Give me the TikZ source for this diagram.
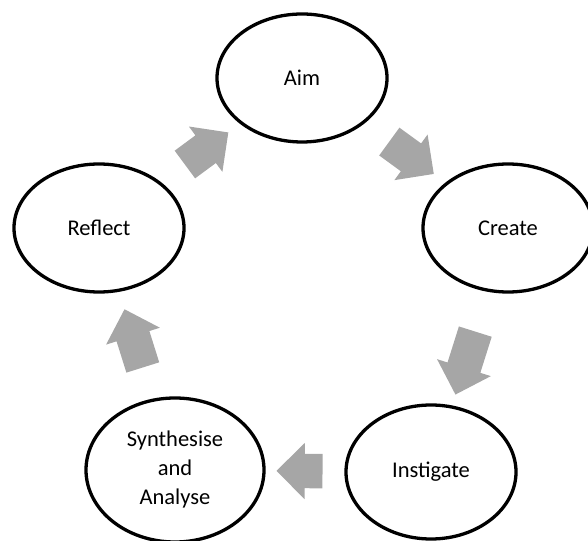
\documentclass[tikz,border=0pt]{standalone}
\usepackage{fontspec}
\setmainfont{Carlito}
\usetikzlibrary{shapes.geometric,shapes.arrows}
\definecolor{arrowgray}{HTML}{A6A6A6}
\tikzset{
  stage/.style={draw, ellipse, line width=3.3pt, inner sep=0pt,
    minimum width=170pt, minimum height=128pt, align=center,
    font=\fontsize{22.5}{29}\selectfont},
  cycarrow/.style={single arrow, fill=arrowgray, draw=none, inner xsep=0pt,
    inner ysep=17pt, minimum height=#1, single arrow head extend=11pt,
    sloped, allow upside down}
}

\begin{document}
\begin{tikzpicture}[x=1pt,y=1pt]
\useasboundingbox (0,0) rectangle (588,540);
%\draw[help lines,step=20] (0,0) grid (588,540);
\node[stage] (aim) at (302,462) {Aim};
\node[stage] (create) at (508,312) {Create};
\node[stage,minimum height=134pt] (instigate) at (431,68) {Instigate};
\node[stage,minimum width=178pt,minimum height=144pt] (synth) at (175,70) {Synthesise\\and\\Analyse};
\node[stage] (reflect) at (99,312) {Reflect};

\path (reflect.center) -- node[cycarrow=54pt,pos=0.496] (reflect-aim) {} (aim.center);
\path (aim.center) -- node[cycarrow=55pt,pos=0.498] (aim-create) {} (create.center);
\path (create.center) -- node[cycarrow=66pt,pos=0.52] (create-instigate) {} (instigate.center);
\path (instigate.center) -- node[cycarrow=46pt,pos=0.48] (instigate-synth) {} (synth.center);
\path (synth.center) -- node[cycarrow=61pt,pos=0.51] (synth-reflect) {} (reflect.center);
\end{tikzpicture}
\end{document}
